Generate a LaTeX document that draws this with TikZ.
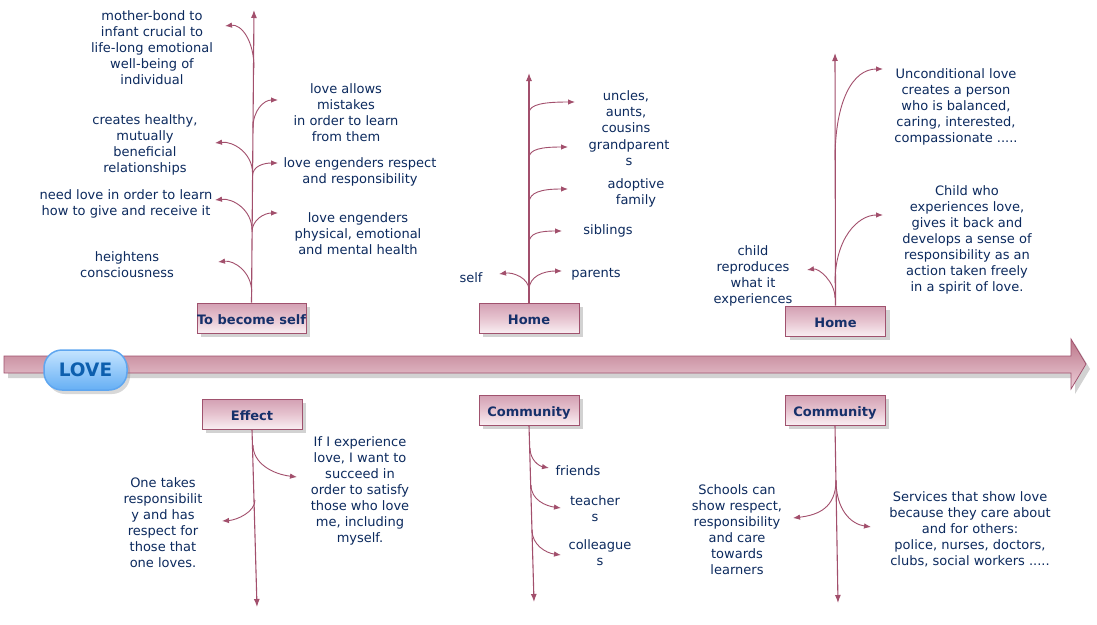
\documentclass[tikz,border=0pt]{standalone}
\usepackage{fontspec}
\setmainfont{DejaVu Sans}
\usetikzlibrary{arrows.meta,shadows}
\definecolor{txt}{HTML}{0C2A5E}
\definecolor{lnk}{HTML}{A24F6C}
\definecolor{bord}{HTML}{A0526E}
\definecolor{boxtop}{HTML}{D3A0B3}
\definecolor{boxbot}{HTML}{F9EEF2}
\definecolor{boxmid}{HTML}{E6C3CF}
\definecolor{lbl}{HTML}{16306A}
\definecolor{lovetxt}{HTML}{0D5FAE}
\definecolor{lovetop}{HTML}{C4E4FF}
\definecolor{lovebot}{HTML}{66AFF4}
\definecolor{lovebord}{HTML}{5EA6F0}
\definecolor{bandtop}{HTML}{BC7689}
\definecolor{bandmid}{HTML}{D4A2B1}
\definecolor{bandbot}{HTML}{EDCFD8}
\tikzset{
 txtnode/.style={font=\fontsize{13}{16}\selectfont, align=center, inner sep=0pt, text=txt},
 catbox/.style={draw=bord, line width=0.8pt, top color=boxtop, bottom color=boxbot, middle color=boxmid,
   minimum width=100pt, minimum height=30pt, inner sep=0pt, text height=13.5pt, text depth=0pt,
   font=\fontsize{13}{15}\bfseries\selectfont, text=lbl,
   drop shadow={opacity=0.35, shadow xshift=4pt, shadow yshift=-4pt}},
 spine/.style={draw=lnk, line width=1.1pt, -{Latex[length=8pt,width=6pt]}},
 branch/.style={draw=lnk, line width=0.9pt, -{Latex[length=7pt,width=5.5pt]}},
}
\begin{document}
\begin{tikzpicture}[x=1pt,y=-1pt]
\useasboundingbox (0,0) rectangle (1097,624);
\fill[white] (0,0) rectangle (1097,624);

% main arrow
\path[draw=bord, line width=0.8pt, top color=bandtop, bottom color=bandbot, middle color=bandmid,
  drop shadow={opacity=0.35, shadow xshift=4pt, shadow yshift=-5pt}]
  (4,356) -- (1071,356) -- (1071,339) -- (1086,364) -- (1071,389) -- (1071,373) -- (4,373) -- cycle;

\node[draw=lovebord, line width=1.5pt, rounded corners=18pt, top color=lovetop, bottom color=lovebot,
  minimum width=83pt, minimum height=40pt, inner sep=0pt, font=\fontsize{18.5}{20}\bfseries\selectfont, text=lovetxt,
  drop shadow={opacity=0.3, shadow xshift=3pt, shadow yshift=-4pt}] (love) at (85.5,370) {LOVE};

% category boxes
\node[catbox, minimum width=109pt] (b1) at (251.5,318) {To become self};
\node[catbox] (b2) at (529,318) {Home};
\node[catbox] (b3) at (835.5,321) {Home};
\node[catbox] (b4) at (252,414) {Effect};
\node[catbox] (b5) at (529,410) {Community};
\node[catbox] (b6) at (835,410) {Community};

% ---- To become self ----
\coordinate (tA) at (254,10);
\draw[spine] (b1.north) -- (tA);
\coordinate (a1) at (254,68);   \coordinate (ea1) at (225,26);
\coordinate (a2) at (253,128);  \coordinate (ea2) at (278,100);
\coordinate (a3) at (252.5,173);\coordinate (ea3) at (215,143);
\coordinate (a4) at (252.5,176);\coordinate (ea4) at (278,163);
\coordinate (a5) at (252,230);  \coordinate (ea5) at (215,200);
\coordinate (a6) at (252,232);  \coordinate (ea6) at (278,213);
\coordinate (a7) at (251.7,292);\coordinate (ea7) at (218,262);
\draw[branch] (a1) .. controls +(0,-28) and +(16,-2) .. (ea1);
\draw[branch] (a2) .. controls +(0,-18) and +(-14,0) .. (ea2);
\draw[branch] (a3) .. controls +(0,-20) and +(18,-2) .. (ea3);
\draw[branch] (a4) .. controls +(0,-10) and +(-14,0) .. (ea4);
\draw[branch] (a5) .. controls +(0,-20) and +(18,-2) .. (ea5);
\draw[branch] (a6) .. controls +(0,-12) and +(-14,0) .. (ea6);
\draw[branch] (a7) .. controls +(0,-20) and +(16,-2) .. (ea7);

\node[txtnode] (tmb) at (152,48) {mother-bond to\\infant crucial to\\life-long emotional\\well-being of\\individual};
\node[txtnode] (tla) at (346,113) {love allows\\mistakes\\in order to learn\\from them};
\node[txtnode] (tch) at (145,145) {creates healthy,\\mutually\\beneficial\\relationships};
\node[txtnode] (tler) at (360,172) {love engenders respect\\and responsibility};
\node[txtnode] (tnl) at (126,204) {need love in order to learn\\how to give and receive it};
\node[txtnode] (tlep) at (358,234) {love engenders\\physical, emotional\\and mental health};
\node[txtnode] (thc) at (127,265) {heightens\\consciousness};

% ---- Home (middle) ----
\coordinate (tM) at (529,73);
\draw[spine] (b2.north) -- (tM);
\coordinate (m1) at (529,113); \coordinate (em1) at (575,102);
\coordinate (m2) at (529,158); \coordinate (em2) at (568,147);
\coordinate (m3) at (529,203); \coordinate (em3) at (568,189);
\coordinate (m4) at (529,243); \coordinate (em4) at (562,231);
\coordinate (m5) at (529,290); \coordinate (em5) at (562,271);
\coordinate (m6) at (529,290); \coordinate (em6) at (499,274);
\draw[branch] (m1) .. controls +(0,-9) and +(-30,0) .. (em1);
\draw[branch] (m2) .. controls +(0,-9) and +(-26,0) .. (em2);
\draw[branch] (m3) .. controls +(0,-11) and +(-26,0) .. (em3);
\draw[branch] (m4) .. controls +(0,-10) and +(-22,0) .. (em4);
\draw[branch] (m5) .. controls +(0,-14) and +(-18,0) .. (em5);
\draw[branch] (m6) .. controls +(0,-12) and +(14,-2) .. (em6);

\node[txtnode] (tun) at (626,112) {uncles,\\aunts,\\cousins};
\node[txtnode] (tgp) at (629,153) {grandparent\\s};
\node[txtnode] (tad) at (636,193) {adoptive\\family};
\node[txtnode] (tsib) at (608,231) {siblings};
\node[txtnode] (tpar) at (596,274) {parents};
\node[txtnode] (tself) at (471,278) {self};

% ---- Home (right) ----
\coordinate (tR) at (835,53);
\draw[spine] (b3.north) -- (tR);
\coordinate (r1) at (835,160); \coordinate (er1) at (883,69);
\coordinate (r2) at (835,283); \coordinate (er2) at (883,215);
\coordinate (r3) at (835,298); \coordinate (er3) at (807,270);
\draw[branch] (r1) .. controls +(0,-60) and +(-30,0) .. (er1);
\draw[branch] (r2) .. controls +(0,-45) and +(-25,0) .. (er2);
\draw[branch] (r3) .. controls +(0,-16) and +(12,-2) .. (er3);

\node[txtnode] (tuc) at (956,107) {Unconditional love\\creates a person\\who is balanced,\\caring, interested,\\compassionate .....};
\node[txtnode] (tcw) at (967,240) {Child who\\experiences love,\\gives it back and\\develops a sense of\\responsibility as an\\action taken freely\\in a spirit of love.};
\node[txtnode] (tcr) at (753,276) {child\\reproduces\\what it\\experiences};

% ---- Effect ----
\coordinate (tE) at (257,607);
\draw[spine] (b4.south) -- (tE);
\coordinate (e1) at (253,445); \coordinate (ee1) at (297,477);
\coordinate (e2) at (255,500); \coordinate (ee2) at (222,521);
\draw[branch] (e1) .. controls +(0,18) and +(-25,-3) .. (ee1);
\draw[branch] (e2) .. controls +(0,12) and +(15,-1) .. (ee2);

\node[txtnode] (tif) at (360,491) {If I experience\\love, I want to\\succeed in\\order to satisfy\\those who love\\me, including\\myself.};
\node[txtnode] (tone) at (163,523) {One takes\\responsibilit\\y and has\\respect for\\those that\\one loves.};

% ---- Community (middle) ----
\coordinate (tC) at (534,602);
\draw[spine] (b5.south) -- (tC);
\coordinate (c1) at (530,448); \coordinate (ec1) at (549,468);
\coordinate (c2) at (531,485); \coordinate (ec2) at (561,508);
\coordinate (c3) at (532,530); \coordinate (ec3) at (561,555);
\draw[branch] (c1) .. controls +(0,12) and +(-10,-2) .. (ec1);
\draw[branch] (c2) .. controls +(0,15) and +(-15,-2) .. (ec2);
\draw[branch] (c3) .. controls +(0,15) and +(-15,-2) .. (ec3);

\node[txtnode] (tfr) at (578,471) {friends};
\node[txtnode] (tte) at (595,509) {teacher\\s};
\node[txtnode] (tco) at (600,553) {colleague\\s};

% ---- Community (right) ----
\coordinate (tD) at (838,603);
\draw[spine] (b6.south) -- (tD);
\coordinate (d1) at (836,480); \coordinate (ed1) at (793,518);
\coordinate (d2) at (836,480); \coordinate (ed2) at (871,527);
\draw[branch] (d1) .. controls +(0,28) and +(25,-3) .. (ed1);
\draw[branch] (d2) .. controls +(0,30) and +(-20,-3) .. (ed2);

\node[txtnode] (tsc) at (737,530) {Schools can\\show respect,\\responsibility\\and care\\towards\\learners};
\node[txtnode] (tsv) at (970,529) {Services that show love\\because they care about\\and for others:\\police, nurses, doctors,\\clubs, social workers .....};
\end{tikzpicture}
\end{document}
